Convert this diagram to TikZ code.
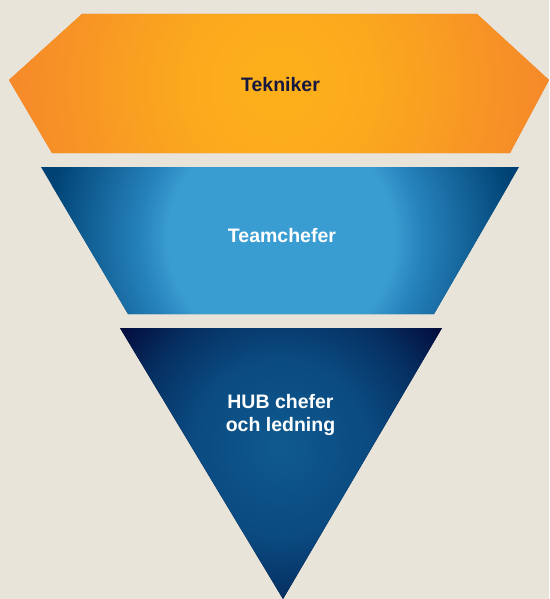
\documentclass[tikz,border=0pt]{standalone}
\usepackage{fontspec}
\setmainfont{Liberation Sans}
\definecolor{bg}{HTML}{E8E4DA}
\definecolor{hexin}{HTML}{FDB01A}
\definecolor{hexmid}{HTML}{FBAA1D}
\definecolor{hexout}{HTML}{F5862B}
\definecolor{trin}{HTML}{3A9DD1}
\definecolor{trmid}{HTML}{2682BB}
\definecolor{trout}{HTML}{004274}
\definecolor{triin}{HTML}{0F5A90}
\definecolor{trimid}{HTML}{0A4A80}
\definecolor{trimid2}{HTML}{063062}
\definecolor{triout}{HTML}{020838}
\definecolor{navytext}{HTML}{15173F}
\pgfdeclareradialshading{hexsh}{\pgfpoint{0bp}{0bp}}{color(0bp)=(hexin); color(8bp)=(hexmid); color(25bp)=(hexout); color(50bp)=(hexout)}
\pgfdeclareradialshading{trsh}{\pgfpoint{0bp}{0bp}}{color(0bp)=(trin); color(12bp)=(trin); color(15bp)=(trmid); color(25bp)=(trout); color(50bp)=(trout)}
\pgfdeclareradialshading{trish}{\pgfpoint{0bp}{0bp}}{color(0bp)=(triin); color(11bp)=(trimid); color(18bp)=(trimid2); color(25bp)=(triout); color(50bp)=(triout)}
\tikzset{
  lbl/.style={font=\fontsize{19.5}{23}\selectfont\bfseries, align=center, inner sep=0pt},
}
\begin{document}
\begin{tikzpicture}[x=1pt,y=-1pt]
\fill[bg] (0,0) rectangle (549,599);
\useasboundingbox (0,0) rectangle (549,599);
% hexagon
\def\hexpath{(82,14) -- (477,14) -- (549,80) -- (510,153) -- (52,153) -- (9,80) -- cycle}
\fill[hexout] \hexpath;
\begin{scope}
  \clip \hexpath;
  \shade[shading=hexsh] (279,84) circle[radius=285];
\end{scope}
% trapezoid
\def\trpath{(41,167) -- (519,167) -- (434,314) -- (128,314) -- cycle}
\fill[trout] \trpath;
\begin{scope}
  \clip \trpath;
  \shade[shading=trsh] (281,238) circle[radius=235];
\end{scope}
% triangle
\def\tripath{(120,328) -- (442,328) -- (283,599) -- cycle}
\fill[triout] \tripath;
\begin{scope}
  \clip \tripath;
  \shade[shading=trish] (281,448) circle[radius=205];
\end{scope}
\node[lbl, text=navytext] (tek) at (280.5,85) {Tekniker};
\node[lbl, text=white] (team) at (282,236) {Teamchefer};
\node[lbl, text=white] (hub) at (280.5,415) {HUB chefer\\och ledning};
\end{tikzpicture}
\end{document}
